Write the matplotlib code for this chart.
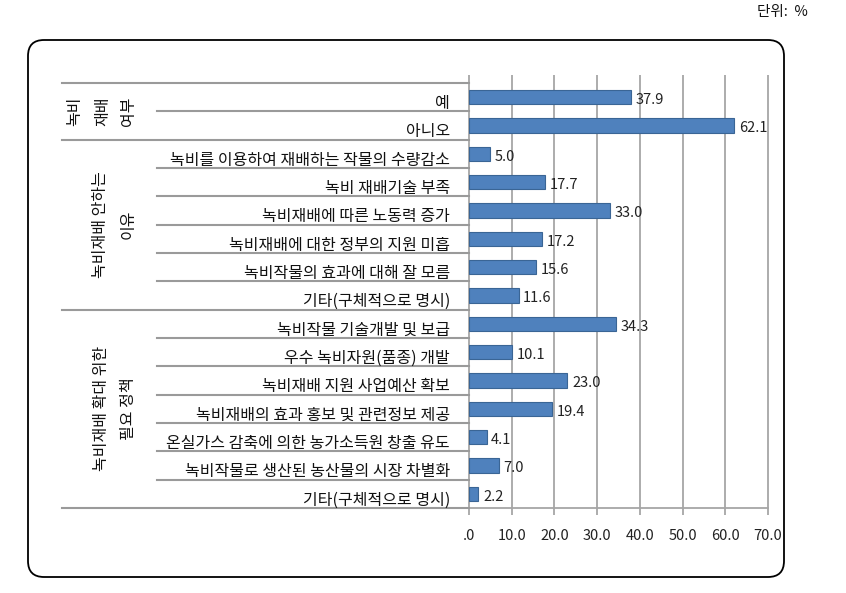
import matplotlib
matplotlib.use('Agg')
import matplotlib.pyplot as plt
from matplotlib.patches import FancyBboxPatch
import numpy as np

plt.rcParams['font.family'] = ['Noto Sans CJK KR', 'DejaVu Sans']

# ---------------- data ----------------
group_lines = [["녹비", "재배", "여부"],
               ["녹비재배 안하는", "이유"],
               ["녹비재배 확대 위한", "필요 정책"]]
group_sizes = [2, 6, 7]
categories = ["예", "아니오",
              "녹비를 이용하여 재배하는 작물의 수량감소",
              "녹비 재배기술 부족",
              "녹비재배에 따른 노동력 증가",
              "녹비재배에 대한 정부의 지원 미흡",
              "녹비작물의 효과에 대해 잘 모름",
              "기타(구체적으로 명시)",
              "녹비작물 기술개발 및 보급",
              "우수 녹비자원(품종) 개발",
              "녹비재배 지원 사업예산 확보",
              "녹비재배의 효과 홍보 및 관련정보 제공",
              "온실가스 감축에 의한 농가소득원 창출 유도",
              "녹비작물로 생산된 농산물의 시장 차별화",
              "기타(구체적으로 명시)"]
values = [37.9, 62.1, 5.0, 17.7, 33.0, 17.2, 15.6, 11.6,
          34.3, 10.1, 23.0, 19.4, 4.1, 7.0, 2.2]
x_ticks = [0, 10, 20, 30, 40, 50, 60, 70]
x_ticklabels = [".0", "10.0", "20.0", "30.0", "40.0", "50.0", "60.0", "70.0"]
unit_text = "단위:  %"

# ---------------- layout ----------------
W, H = 846, 593
fig = plt.figure(figsize=(W / 100, H / 100), dpi=100)
fx = lambda px: px / W
fy = lambda py: 1 - py / H

top, bot = 83, 508
ax_left, ax_right = 469, 768
tab_left = 62

# overlay for the rounded frame
ov = fig.add_axes([0, 0, 1, 1], zorder=-5)
ov.set_xlim(0, W)
ov.set_ylim(H, 0)
ov.axis('off')
ov.add_patch(FancyBboxPatch((28, 40), 756, 537,
                            boxstyle="round,pad=0,rounding_size=16",
                            facecolor='white', edgecolor='black', lw=1.3))

n = len(values)
ypos = np.arange(n)
grid_col = '#A6A6A6'

ax = fig.add_axes([fx(ax_left), fy(bot), fx(ax_right) - fx(ax_left), fy(top) - fy(bot)])
ax.barh(ypos, values, height=0.5, color='#4F81BD', edgecolor='#3A6595', lw=0.8, zorder=3)
ax.set_ylim(n - 0.5, -0.5)
ax.set_xlim(0, 70)
ax.set_xticks(x_ticks)
ax.set_xticklabels(x_ticklabels)
ax.set_yticks([])
ext = 8 / ((bot - top) / n)
ax.vlines(x_ticks[1:], -0.5 - ext, n - 0.5, color=grid_col, lw=1.3, clip_on=False, zorder=1)
ax.vlines([0], -0.5 - ext, n - 0.5, color=grid_col, lw=1.3, clip_on=False, zorder=1)
for s in ['top', 'right', 'left']:
    ax.spines[s].set_visible(False)
ax.spines['bottom'].set_color(grid_col)
ax.spines['bottom'].set_linewidth(1.3)
ax.tick_params(axis='x', length=5, color=grid_col, width=1.3, pad=10, labelsize=10.5,
               labelcolor='#222222')
ax.patch.set_alpha(0)

for i, v in enumerate(values):
    ax.text(v + 1.1, i + 0.1, f"{v:.1f}", va='center', ha='left', fontsize=10.5,
            color='#222222', zorder=4)

# ---------------- left table ----------------
tab = fig.add_axes([fx(tab_left), fy(bot), fx(ax_left) - fx(tab_left), fy(top) - fy(bot)])
tab.set_ylim(n - 0.5, -0.5)
tab.set_xlim(tab_left, ax_left)
tab.axis('off')
tab.patch.set_alpha(0)

line_col = '#9A9A9A'
bounds = np.cumsum([0] + group_sizes) - 0.5
for b in bounds:
    tab.plot([tab_left, ax_left], [b, b], color=line_col, lw=1.5, clip_on=False)
start = 0
for g in group_sizes:
    for k in range(1, g):
        yb = start + k - 0.5
        tab.plot([157, ax_left], [yb, yb], color=line_col, lw=1.5, clip_on=False)
    start += g

for i, c in enumerate(categories):
    tab.text(450, i + 0.22, c, ha='right', va='center', fontsize=11.5, color='#111111')

col_x = [[75, 103, 128], [100, 128], [101, 128]]
start = 0
for lines, g, xs in zip(group_lines, group_sizes, col_x):
    yc = start + (g - 1) / 2
    for ln, xc in zip(lines, xs):
        tab.text(xc, yc, ln, rotation=90, ha='center', va='center', fontsize=11.5,
                 color='#111111')
    start += g

fig.text(fx(808), fy(12), unit_text, ha='right', va='center', fontsize=10.5, color='#111111')

fig.savefig('out.png', dpi=100)
